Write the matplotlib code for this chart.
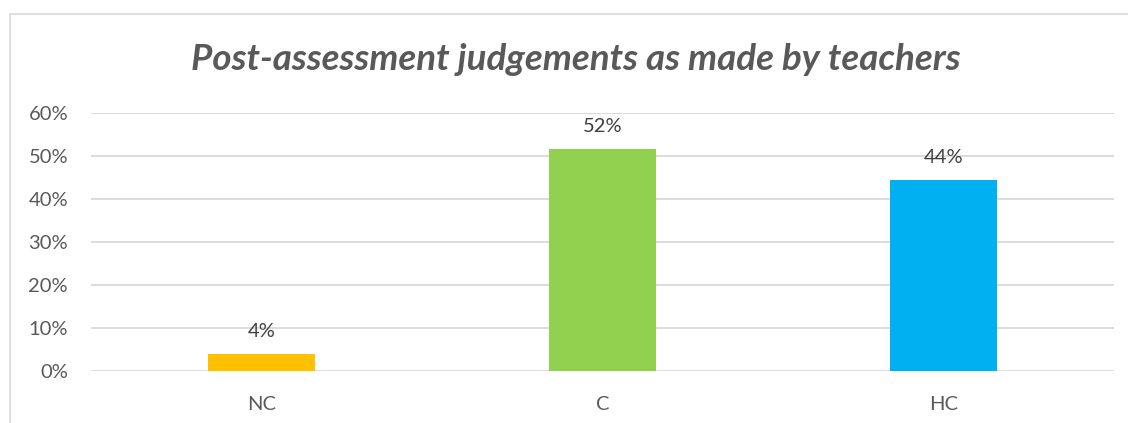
import matplotlib
matplotlib.use("Agg")
import matplotlib.pyplot as plt
from matplotlib.patches import Rectangle
from matplotlib.ticker import PercentFormatter

categories = ["NC", "C", "HC"]
shares = [0.04, 0.516, 0.444]
labels = ["4%", "52%", "44%"]
bar_colors = ["#FFC000", "#92D050", "#00B0F0"]

plt.rcParams["font.family"] = ["Lato", "DejaVu Sans"]
text_col = "#595959"

fig = plt.figure(figsize=(11.28, 4.23), dpi=100)
W, H = 1128, 423
ax = fig.add_axes([91 / W, 1 - 371 / H, (1114 - 91) / W, (371 - 113) / H])

# chart frame (the outer border from the spreadsheet)
fig.patches.append(Rectangle((9.5 / W, -0.1), 1.2, 1 - 14.5 / H + 0.1,
                             transform=fig.transFigure, fill=False,
                             edgecolor="#D9D9D9", linewidth=1.2))

x = range(len(categories))
bars = ax.bar(x, shares, width=0.314, color=bar_colors, zorder=3)
for b, lab in zip(bars, labels):
    ax.annotate(lab, (b.get_x() + b.get_width() / 2, b.get_height()),
                xytext=(0, 10), textcoords="offset points",
                ha="center", va="bottom", fontsize=14.5, color="#404040")

ax.set_xlim(-0.5, 2.5)
ax.set_ylim(0, 0.6)
ax.set_yticks([0, 0.1, 0.2, 0.3, 0.4, 0.5, 0.6])
ax.yaxis.set_major_formatter(PercentFormatter(1.0, decimals=0))
ax.set_xticks(list(x))
ax.set_xticklabels(categories)
ax.grid(axis="y", color="#D9D9D9", linewidth=1.3, zorder=0)
for s in ax.spines.values():
    s.set_visible(False)
ax.tick_params(axis="both", length=0, labelsize=14.5, colors=text_col)
ax.tick_params(axis="y", pad=16.5)
ax.tick_params(axis="x", pad=18)

fig.text(576 / W, 1 - 60 / H, "Post-assessment judgements as made by teachers",
         ha="center", va="center", fontsize=26.5, fontweight="bold",
         fontstyle="italic", color=text_col)

fig.savefig("out.png", dpi=100)
